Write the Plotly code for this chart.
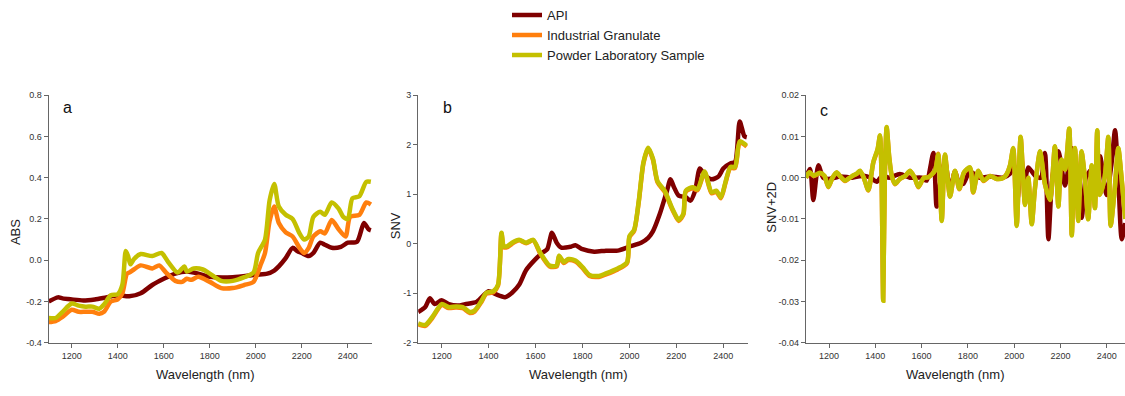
import plotly.graph_objects as go

# ---------------- Panel a: ABS ----------------
wl_a_api = [1100, 1140, 1160, 1200, 1250, 1300, 1350, 1400, 1450, 1500, 1550, 1600, 1650, 1700,
            1750, 1800, 1900, 2000, 2050, 2080, 2100, 2130, 2160, 2180, 2200, 2230, 2250, 2280,
            2300, 2330, 2370, 2400, 2440, 2470, 2490, 2500]
abs_api = [-0.20, -0.18, -0.185, -0.19, -0.195, -0.19, -0.18, -0.17, -0.175, -0.16, -0.12, -0.09,
           -0.065, -0.055, -0.065, -0.08, -0.082, -0.07, -0.065, -0.05, -0.03, 0.01, 0.06, 0.045,
           0.035, 0.02, 0.035, 0.085, 0.075, 0.06, 0.065, 0.085, 0.09, 0.18, 0.15, 0.145]

wl_a_ind = [1100, 1130, 1160, 1200, 1230, 1260, 1290, 1320, 1340, 1370, 1400, 1420, 1440, 1450,
            1470, 1500, 1550, 1580, 1610, 1650, 1680, 1700, 1720, 1750, 1800, 1850, 1900, 1950,
            1990, 2020, 2040, 2060, 2080, 2100, 2130, 2160, 2190, 2210, 2230, 2250, 2280, 2300,
            2330, 2360, 2390, 2410, 2450, 2480, 2500]
abs_ind = [-0.30, -0.295, -0.275, -0.24, -0.25, -0.25, -0.25, -0.26, -0.25, -0.20, -0.19, -0.16,
           -0.065, -0.06, -0.045, -0.025, -0.04, -0.025, -0.06, -0.10, -0.105, -0.09, -0.095,
           -0.08, -0.105, -0.135, -0.135, -0.12, -0.105, -0.025, 0.035, 0.19, 0.26, 0.18, 0.135,
           0.115, 0.06, 0.035, 0.06, 0.115, 0.14, 0.13, 0.195, 0.15, 0.115, 0.21, 0.22, 0.28, 0.27]

wl_a_pow = [1100, 1130, 1160, 1200, 1230, 1260, 1290, 1320, 1340, 1370, 1400, 1420, 1435, 1445,
            1455, 1470, 1500, 1550, 1590, 1620, 1660, 1690, 1700, 1730, 1770, 1800, 1850, 1900,
            1950, 1990, 2010, 2040, 2060, 2080, 2100, 2130, 2160, 2190, 2210, 2230, 2250, 2280,
            2300, 2330, 2360, 2380, 2400, 2420, 2450, 2480, 2500]
abs_pow = [-0.28, -0.28, -0.25, -0.21, -0.22, -0.225, -0.225, -0.235, -0.215, -0.17, -0.165,
           -0.12, 0.045, 0.02, -0.02, 0.005, 0.03, 0.02, 0.035, -0.01, -0.06, -0.03, -0.055,
           -0.04, -0.045, -0.065, -0.10, -0.10, -0.082, -0.06, 0.035, 0.10, 0.29, 0.37, 0.26,
           0.22, 0.20, 0.13, 0.10, 0.115, 0.21, 0.235, 0.22, 0.28, 0.25, 0.21, 0.20, 0.30, 0.31,
           0.38, 0.38]

# ---------------- Panel b: SNV ----------------
wl_b_api = [1100, 1130, 1150, 1170, 1200, 1230, 1270, 1300, 1350, 1400, 1430, 1470, 1500, 1530,
            1560, 1600, 1630, 1650, 1670, 1690, 1710, 1750, 1770, 1800, 1850, 1900, 1950, 2000,
            2050, 2080, 2100, 2130, 2160, 2175, 2190, 2210, 2240, 2260, 2280, 2300, 2320, 2350,
            2380, 2400, 2430, 2450, 2470, 2490, 2500]
snv_api = [-1.38, -1.28, -1.10, -1.22, -1.14, -1.22, -1.25, -1.22, -1.17, -0.96, -1.02, -1.08,
           -0.99, -0.83, -0.53, -0.31, -0.18, -0.11, 0.22, 0.02, -0.08, -0.06, -0.03, -0.11,
           -0.16, -0.14, -0.14, -0.06, 0.02, 0.12, 0.25, 0.61, 1.07, 1.30, 1.14, 0.97, 0.94,
           0.87, 1.07, 1.52, 1.39, 1.30, 1.36, 1.52, 1.62, 1.65, 2.47, 2.17, 2.15]

wl_b_ind = [1100, 1130, 1160, 1200, 1230, 1260, 1290, 1320, 1340, 1370, 1390, 1420, 1440, 1455,
            1465, 1480, 1500, 1530, 1560, 1590, 1620, 1660, 1690, 1700, 1720, 1740, 1770, 1800,
            1830, 1870, 1900, 1950, 1990, 2000, 2020, 2040, 2060, 2080, 2100, 2120, 2150, 2180,
            2190, 2210, 2230, 2240, 2270, 2290, 2320, 2350, 2370, 2390, 2410, 2430, 2450, 2470,
            2500]
snv_ind = [-1.63, -1.66, -1.50, -1.24, -1.30, -1.29, -1.30, -1.40, -1.37, -1.17, -1.01, -0.98,
           -0.85, 0.20, -0.07, -0.07, 0.00, 0.07, 0.01, 0.07, -0.20, -0.46, -0.46, -0.26, -0.39,
           -0.33, -0.36, -0.49, -0.65, -0.67, -0.62, -0.52, -0.39, 0.13, 0.26, 0.85, 1.63, 1.92,
           1.70, 1.24, 1.05, 0.72, 0.62, 0.46, 0.59, 1.05, 1.12, 1.08, 1.44, 1.02, 1.05, 0.92,
           1.24, 1.53, 1.53, 2.05, 1.96]

wl_b_pow = [1100, 1130, 1160, 1200, 1230, 1260, 1290, 1320, 1340, 1370, 1390, 1420, 1440, 1455,
            1465, 1480, 1500, 1530, 1560, 1590, 1620, 1660, 1690, 1700, 1720, 1740, 1770, 1800,
            1830, 1870, 1900, 1950, 1990, 2000, 2020, 2040, 2060, 2080, 2100, 2120, 2150, 2180,
            2190, 2210, 2230, 2240, 2270, 2290, 2320, 2350, 2370, 2390, 2410, 2430, 2450, 2470,
            2500]
snv_pow = [-1.61, -1.64, -1.48, -1.22, -1.28, -1.27, -1.28, -1.38, -1.35, -1.15, -0.99, -0.96,
           -0.83, 0.22, -0.05, -0.05, 0.02, 0.08, 0.02, 0.08, -0.18, -0.44, -0.44, -0.24, -0.37,
           -0.31, -0.34, -0.47, -0.63, -0.65, -0.60, -0.50, -0.37, 0.15, 0.28, 0.87, 1.65, 1.94,
           1.72, 1.26, 1.07, 0.74, 0.64, 0.48, 0.61, 1.07, 1.14, 1.10, 1.46, 1.04, 1.07, 0.94,
           1.26, 1.55, 1.55, 2.07, 1.98]

# ---------------- Panel c: SNV + 2nd derivative ----------------
wl_c_api = [1100, 1118, 1132, 1154, 1175, 1200, 1250, 1300, 1350, 1380, 1406, 1430, 1460, 1506,
            1550, 1600, 1622, 1651, 1665, 1687, 1701, 1723, 1744, 1763, 1780, 1809, 1850, 1900,
            1950, 1982, 2000, 2015, 2030, 2045, 2061, 2090, 2115, 2133, 2148, 2165, 2191, 2220,
            2249, 2270, 2292, 2310, 2335, 2350, 2371, 2399, 2420, 2436, 2450, 2465, 2480]
d2_api = [0.0, 0.0021, -0.0054, 0.003, 0.0, -0.0003, 0.0003, 0.0, 0.0005, 0.0, -0.001, 0.0005,
          0.0, 0.0009, 0.0, 0.0, -0.0007, 0.006, -0.007, 0.0013, 0.004, -0.003, 0.0015, -0.0015,
          -0.0015, 0.0015, 0.0, 0.0003, 0.0, 0.001, 0.003, -0.005, 0.005, -0.001, 0.0025, 0.0005,
          0.0, 0.006, -0.0149, 0.0, 0.0064, -0.0019, 0.0072, 0.001, -0.0097, 0.0, 0.002, -0.003,
          0.0052, -0.0042, 0.003, 0.0115, 0.0, -0.0149, -0.011]

wl_c_ind = [1100, 1115, 1135, 1160, 1180, 1197, 1215, 1233, 1250, 1269, 1290, 1305, 1320, 1334,
            1350, 1370, 1391, 1410, 1420, 1427, 1434, 1441, 1449, 1460, 1471, 1485, 1506, 1530,
            1550, 1570, 1586, 1610, 1629, 1658, 1672, 1687, 1701, 1723, 1744, 1763, 1783, 1809,
            1823, 1845, 1867, 1896, 1925, 1954, 1968, 1982, 1996, 2011, 2028, 2047, 2061, 2076,
            2090, 2112, 2133, 2155, 2176, 2191, 2205, 2220, 2238, 2249, 2263, 2277, 2291, 2306,
            2320, 2335, 2349, 2359, 2370, 2391, 2407, 2417, 2435, 2450, 2464, 2480]
d2_ind = [0.0, 0.0012, 0.0004, 0.0011, 0.0004, -0.0023, 0.0, 0.0012, 0.0002, -0.0008, 0.0,
          0.0005, 0.0009, 0.0016, 0.0, -0.0031, 0.0036, 0.0068, 0.0101, 0.0, -0.0296, 0.0,
          0.0121, 0.005, 0.0004, -0.0016, -0.0003, 0.0004, 0.0016, 0.0, -0.0023, 0.0, 0.0001,
          0.0018, 0.0058, -0.0103, 0.0055, -0.0045, 0.0016, -0.0028, 0.0012, 0.0024, -0.0036,
          0.0016, -0.0008, 0.0004, -0.0003, 0.0, 0.0009, 0.0029, 0.0071, -0.0115, 0.0098,
          -0.0065, 0.0, -0.0111, -0.0025, 0.0063, -0.0016, -0.0053, 0.0075, -0.0069, 0.0043,
          0.002, 0.0118, -0.0138, 0.0071, -0.0104, 0.0063, -0.0003, -0.01, 0.0029, -0.0073,
          0.0114, -0.0041, 0.0, 0.0098, -0.0116, -0.0025, 0.0071, 0.0, -0.0098]

wl_c_pow = [1100, 1115, 1135, 1160, 1180, 1197, 1215, 1233, 1250, 1269, 1290, 1305, 1320, 1334,
            1350, 1370, 1391, 1410, 1420, 1427, 1434, 1441, 1449, 1460, 1471, 1485, 1506, 1530,
            1550, 1570, 1586, 1610, 1629, 1658, 1672, 1687, 1701, 1723, 1744, 1763, 1783, 1809,
            1823, 1845, 1867, 1896, 1925, 1954, 1968, 1982, 1996, 2011, 2028, 2047, 2061, 2076,
            2090, 2112, 2133, 2155, 2176, 2191, 2205, 2220, 2238, 2249, 2263, 2277, 2291, 2306,
            2320, 2335, 2349, 2359, 2370, 2391, 2407, 2417, 2435, 2450, 2464, 2480]
d2_pow = [0.0, 0.0013, 0.0005, 0.0012, 0.0005, -0.0022, 0.0, 0.0013, 0.0002, -0.0007, 0.0,
          0.0006, 0.001, 0.0017, 0.0, -0.003, 0.0037, 0.007, 0.0103, 0.0, -0.0298, 0.0, 0.0123,
          0.005, 0.0005, -0.0015, -0.0003, 0.0005, 0.0017, 0.0, -0.0022, 0.0, 0.0001, 0.0017,
          0.0056, -0.0105, 0.0056, -0.0046, 0.0017, -0.0027, 0.0013, 0.0025, -0.0035, 0.0017,
          -0.0007, 0.0004, -0.0003, 0.0, 0.0009, 0.003, 0.0072, -0.0117, 0.0099, -0.0066, 0.0,
          -0.0113, -0.0025, 0.0064, -0.0015, -0.0054, 0.0076, -0.007, 0.0044, 0.002, 0.0119,
          -0.014, 0.0072, -0.0105, 0.0064, -0.0003, -0.0101, 0.003, -0.0074, 0.0115, -0.0042,
          0.0, 0.0099, -0.0117, -0.0025, 0.0072, 0.0, -0.01]

# ---------------- labels / ticks ----------------
series_names = ["API", "Industrial Granulate", "Powder Laboratory Sample"]
series_colors = ["#7f0000", "#ff7f0e", "#c4c000"]
x_tickvals = [1200, 1400, 1600, 1800, 2000, 2200, 2400]
x_ticktext = ["1200", "1400", "1600", "1800", "2000", "2200", "2400"]
ya_tickvals = [-0.4, -0.2, 0.0, 0.2, 0.4, 0.6, 0.8]
ya_ticktext = ["-0.4", "-0.2", "0.0", "0.2", "0.4", "0.6", "0.8"]
yb_tickvals = [-2, -1, 0, 1, 2, 3]
yb_ticktext = ["-2", "-1", "0", "1", "2", "3"]
yc_tickvals = [-0.04, -0.03, -0.02, -0.01, 0.0, 0.01, 0.02]
yc_ticktext = ["-0.04", "-0.03", "-0.02", "-0.01", "0.00", "0.01", "0.02"]
y_titles = ["ABS", "SNV", "SNV+2D"]
panel_letters = ["a", "b", "c"]
x_title = "Wavelength (nm)"

W, H = 1125, 396
def px(x):
    return x / W
def py(y):
    return 1 - y / H

fig = go.Figure()

panels = [
    ("x", "y", [(wl_a_api, abs_api), (wl_a_ind, abs_ind), (wl_a_pow, abs_pow)]),
    ("x2", "y2", [(wl_b_api, snv_api), (wl_b_ind, snv_ind), (wl_b_pow, snv_pow)]),
    ("x3", "y3", [(wl_c_api, d2_api), (wl_c_ind, d2_ind), (wl_c_pow, d2_pow)]),
]
for pi, (xa, ya, data) in enumerate(panels):
    for si, (xs, ys) in enumerate(data):
        fig.add_trace(go.Scatter(
            x=xs, y=ys, mode="lines", xaxis=xa, yaxis=ya,
            name=series_names[si], showlegend=(pi == 0),
            line=dict(color=series_colors[si], width=4.5, shape="spline", smoothing=0.7),
        ))

tick_font = dict(family="Liberation Sans Narrow, Arial Narrow, Liberation Sans, Arial",
                 size=9, color="#333333")
axis_common = dict(showgrid=False, zeroline=False, showline=True, linecolor="#666666",
                   linewidth=1.3, ticks="outside", ticklen=4, tickcolor="#666666",
                   tickwidth=1, tickfont=tick_font)

y_dom = [py(346.5), py(92.5)]
fig.update_layout(
    width=W, height=H,
    margin=dict(l=0, r=0, t=0, b=0),
    paper_bgcolor="white", plot_bgcolor="white",
    font=dict(family="Liberation Sans, Arial", color="#222222"),
    showlegend=True,
    legend=dict(x=px(507), y=1 + 5 / H, xanchor="left", yanchor="top",
                font=dict(size=13, color="#222222", family="Liberation Sans, Arial"),
                bgcolor="rgba(0,0,0,0)", borderwidth=0, tracegroupgap=0, itemwidth=30),
    xaxis=dict(domain=[px(48.7), px(372)], range=[1100, 2505], anchor="y",
               tickvals=x_tickvals, ticktext=x_ticktext, **axis_common),
    yaxis=dict(domain=y_dom, range=[-0.4, 0.8], anchor="x",
               tickvals=ya_tickvals, ticktext=ya_ticktext, **axis_common),
    xaxis2=dict(domain=[px(418.2), px(747.7)], range=[1100, 2504], anchor="y2",
                tickvals=x_tickvals, ticktext=x_ticktext, **axis_common),
    yaxis2=dict(domain=y_dom, range=[-2, 3], anchor="x2",
                tickvals=yb_tickvals, ticktext=yb_ticktext, **axis_common),
    xaxis3=dict(domain=[px(805.9), 1.0], range=[1100, 2479], anchor="y3",
                tickvals=x_tickvals, ticktext=x_ticktext, **axis_common),
    yaxis3=dict(domain=y_dom, range=[-0.04, 0.02], anchor="x3",
                tickvals=yc_tickvals, ticktext=yc_ticktext, **axis_common),
)

# axis titles and panel letters as annotations placed in paper coordinates
title_font = dict(family="Liberation Sans, Arial", size=13, color="#222222")
ytitle_pos = [(15, 233), (395, 227), (772, 208)]
xtitle_pos = [205, 578, 955]
letter_pos = [(67, 105), (447, 105), (824, 108)]
for i in range(3):
    fig.add_annotation(text=y_titles[i], x=px(ytitle_pos[i][0]), y=py(ytitle_pos[i][1]),
                       xref="paper", yref="paper", showarrow=False, textangle=-90,
                       font=title_font, xanchor="center", yanchor="middle")
    fig.add_annotation(text=x_title, x=px(xtitle_pos[i]), y=py(379),
                       xref="paper", yref="paper", showarrow=False,
                       font=title_font, xanchor="center", yanchor="middle")
    fig.add_annotation(text=panel_letters[i], x=px(letter_pos[i][0]), y=py(letter_pos[i][1]),
                       xref="paper", yref="paper", showarrow=False,
                       font=dict(family="Liberation Sans, Arial", size=16, color="#111111"),
                       xanchor="center", yanchor="middle")

fig.write_html("out.html")
